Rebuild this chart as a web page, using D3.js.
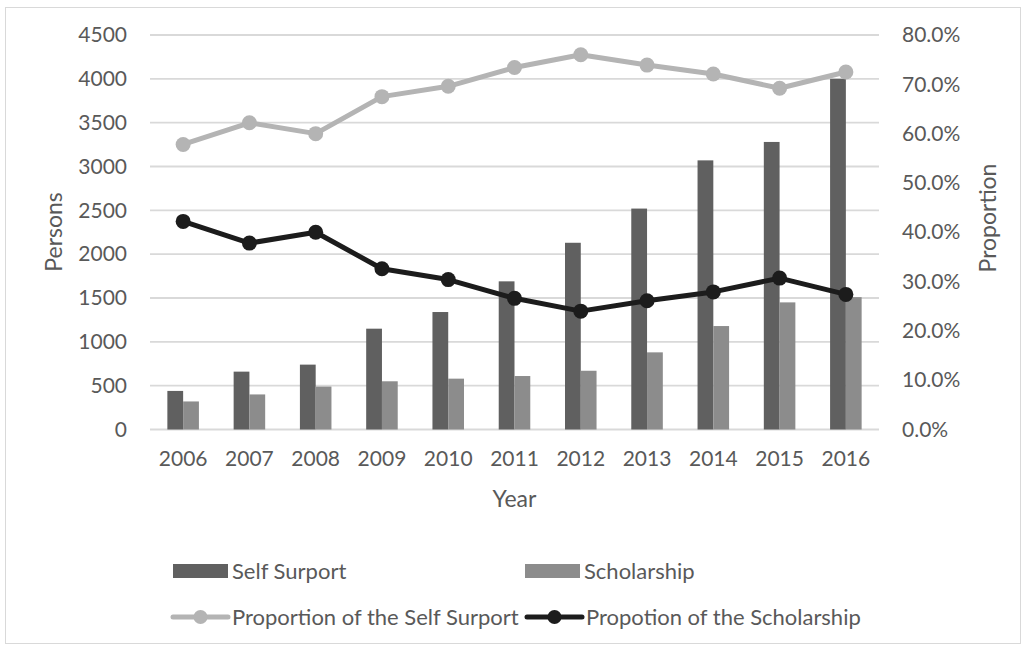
<!DOCTYPE html>
<html>
<head>
<meta charset="utf-8">
<script src="https://cdn.jsdelivr.net/npm/d3@7"></script>
<style>
  html, body { margin: 0; padding: 0; background: #ffffff; }
  svg { display: block; font-family: Lato, "Open Sans", sans-serif; }
</style>
</head>
<body>
<svg id="chart" width="1026" height="648"></svg>
<script>
// Student counts by year and the share of each funding type
const years = ["2006", "2007", "2008", "2009", "2010", "2011", "2012", "2013", "2014", "2015", "2016"];
const selfSupport = [440, 660, 740, 1150, 1340, 1690, 2130, 2520, 3070, 3280, 4000];
const scholarship = [320, 400, 490, 550, 580, 610, 670, 880, 1180, 1450, 1510];
const propSelf = [0.578, 0.622, 0.600, 0.675, 0.696, 0.734, 0.760, 0.739, 0.721, 0.692, 0.725];
const propScholar = [0.422, 0.378, 0.400, 0.326, 0.304, 0.266, 0.240, 0.261, 0.279, 0.307, 0.274];
const leftTicks = [0, 500, 1000, 1500, 2000, 2500, 3000, 3500, 4000, 4500];
const rightTicks = [0, 0.1, 0.2, 0.3, 0.4, 0.5, 0.6, 0.7, 0.8];

const svg = d3.select("#chart");
const W = 1026, H = 648;
const plot = { left: 150, right: 879, top: 35, bottom: 429.5 };

const textColor = "#595959";
const gridColor = "#d9d9d9";
const colSelf = "#606060";
const colScholar = "#8c8c8c";
const colPropSelf = "#b4b4b4";
const colPropScholar = "#1c1c1c";
const tickFont = "21px";
const titleFont = "23px";
const legendFont = "22px";

// chart frame
svg.append("rect")
  .attr("x", 5.5).attr("y", 7.5)
  .attr("width", W - 11).attr("height", H - 12)
  .attr("fill", "#fff").attr("stroke", "#d9d9d9").attr("stroke-width", 1);

const x = d3.scaleBand().domain(years).range([plot.left, plot.right]).padding(0);
const bw = x.bandwidth();
const barW = bw * 0.238;
const xSub = d3.scaleOrdinal().domain(["self", "scholar"]).range([-barW, 0]);

const yL = d3.scaleLinear().domain([0, 4500]).range([plot.bottom, plot.top]);
const yR = d3.scaleLinear().domain([0, 0.8]).range([plot.bottom, plot.top]);

// gridlines
svg.append("g").selectAll("line").data(leftTicks).join("line")
  .attr("x1", plot.left).attr("x2", plot.right)
  .attr("y1", d => yL(d)).attr("y2", d => yL(d))
  .attr("stroke", gridColor).attr("stroke-width", 1.8);

// left axis labels
const axL = svg.append("g").attr("transform", `translate(${plot.left - 23},0)`)
  .call(d3.axisLeft(yL).tickValues(leftTicks).tickSize(0).tickPadding(0).tickFormat(d3.format("d")));
axL.select(".domain").remove();
axL.selectAll("text").attr("fill", textColor).style("font-size", tickFont).style("font-family", "Lato, sans-serif");

// right axis labels
const axR = svg.append("g").attr("transform", `translate(${plot.right + 23},0)`)
  .call(d3.axisRight(yR).tickValues(rightTicks).tickSize(0).tickPadding(0).tickFormat(d3.format(".1%")));
axR.select(".domain").remove();
axR.selectAll("text").attr("fill", textColor).style("font-size", tickFont).style("font-family", "Lato, sans-serif");

// bottom axis labels
const axB = svg.append("g").attr("transform", `translate(0,${plot.bottom + 22})`)
  .call(d3.axisBottom(x).tickSize(0).tickPadding(0));
axB.select(".domain").remove();
axB.selectAll("text").attr("fill", textColor).style("font-size", tickFont).style("font-family", "Lato, sans-serif")
  .attr("dy", "0.71em");

// bars
const bars = svg.append("g");
bars.selectAll("rect.self").data(years).join("rect")
  .attr("class", "self")
  .attr("x", (d) => x(d) + bw / 2 + xSub("self"))
  .attr("width", barW)
  .attr("y", (d, i) => yL(selfSupport[i]))
  .attr("height", (d, i) => yL(0) - yL(selfSupport[i]))
  .attr("fill", colSelf);
bars.selectAll("rect.scholar").data(years).join("rect")
  .attr("class", "scholar")
  .attr("x", (d) => x(d) + bw / 2 + xSub("scholar"))
  .attr("width", barW)
  .attr("y", (d, i) => yL(scholarship[i]))
  .attr("height", (d, i) => yL(0) - yL(scholarship[i]))
  .attr("fill", colScholar);

// proportion lines
function drawLine(values, color) {
  const line = d3.line()
    .x((d, i) => x(years[i]) + bw / 2)
    .y(d => yR(d));
  svg.append("path").datum(values)
    .attr("d", line)
    .attr("fill", "none").attr("stroke", color)
    .attr("stroke-width", 5).attr("stroke-linejoin", "round").attr("stroke-linecap", "round");
  svg.append("g").selectAll("circle").data(values).join("circle")
    .attr("cx", (d, i) => x(years[i]) + bw / 2)
    .attr("cy", d => yR(d))
    .attr("r", 7.5)
    .attr("fill", color);
}
drawLine(propSelf, colPropSelf);
drawLine(propScholar, colPropScholar);

// axis titles
svg.append("text")
  .attr("transform", `translate(62,232) rotate(-90)`)
  .attr("text-anchor", "middle").attr("fill", textColor)
  .style("font-size", titleFont).text("Persons");
svg.append("text")
  .attr("transform", `translate(996,218) rotate(-90)`)
  .attr("text-anchor", "middle").attr("fill", textColor)
  .style("font-size", titleFont).text("Proportion");
svg.append("text")
  .attr("x", (plot.left + plot.right) / 2).attr("y", 507)
  .attr("text-anchor", "middle").attr("fill", textColor)
  .style("font-size", titleFont).text("Year");

// legend
const legendItems = [
  { label: "Self Surport", type: "bar", color: colSelf, x: 173, y: 571 },
  { label: "Scholarship", type: "bar", color: colScholar, x: 525, y: 571 },
  { label: "Proportion of the Self Surport", type: "line", color: colPropSelf, x: 173, y: 617 },
  { label: "Propotion of the Scholarship", type: "line", color: colPropScholar, x: 527, y: 617 }
];
const lg = svg.append("g");
legendItems.forEach(it => {
  const g = lg.append("g").attr("transform", `translate(${it.x},${it.y})`);
  if (it.type === "bar") {
    g.append("rect").attr("x", 0).attr("y", -7).attr("width", 55).attr("height", 14).attr("fill", it.color);
  } else {
    g.append("line").attr("x1", 0).attr("x2", 55).attr("y1", 0).attr("y2", 0)
      .attr("stroke", it.color).attr("stroke-width", 5).attr("stroke-linecap", "round");
    g.append("circle").attr("cx", 27.5).attr("cy", 0).attr("r", 7).attr("fill", it.color);
  }
  g.append("text").attr("x", 59).attr("y", 0).attr("dy", "0.35em")
    .attr("fill", textColor).style("font-size", legendFont).text(it.label);
});
</script>
</body>
</html>
